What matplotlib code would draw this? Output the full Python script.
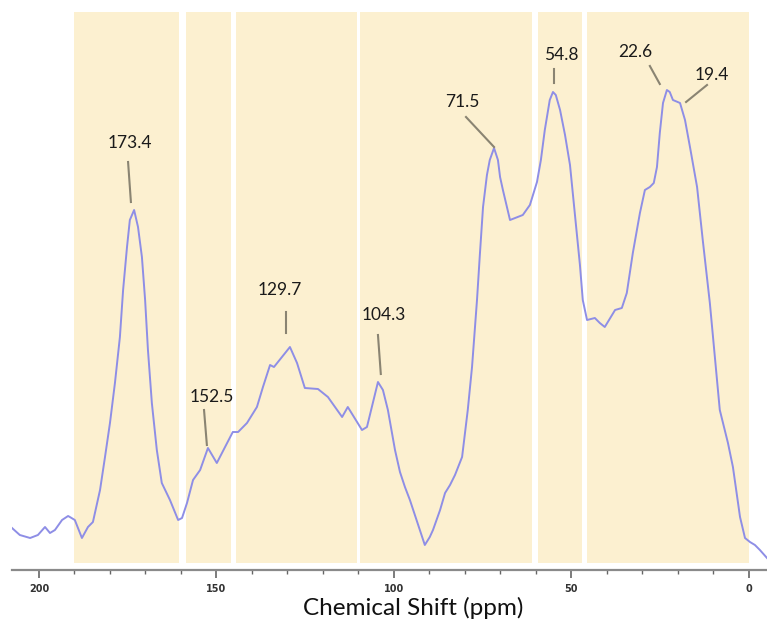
import matplotlib
matplotlib.use("Agg")
import matplotlib.pyplot as plt

# spectrum: chemical shift (ppm) and intensity (arb.)
ppm = [207.6, 205.4, 202.5, 200.3, 198.3, 196.9, 195.5, 193.5, 191.8, 191.3,
       189.9, 187.9, 186.2, 184.8, 182.8, 181.4, 180.0, 178.6, 177.2, 176.3,
       175.2, 174.4, 173.2, 172.1, 171.0, 170.1, 169.3, 168.2, 166.8, 165.4,
       163.1, 160.8, 159.7, 158.3, 156.6, 154.6, 152.4, 149.9, 145.4, 143.9,
       141.4, 138.6, 136.9, 134.9, 133.8, 129.3, 127.3, 125.1, 121.4, 118.6,
       114.6, 113.0, 109.0, 107.6, 104.5, 103.1, 101.7, 99.7, 98.3, 96.9,
       95.5, 94.1, 92.7, 91.3, 89.9, 89.0, 87.0, 85.6, 84.2, 82.8,
       80.8, 79.2, 78.0, 76.6, 75.8, 74.9, 73.8, 73.0, 71.8, 70.7,
       70.1, 69.3, 67.3, 63.7, 61.7, 59.7, 58.6, 57.5, 56.1, 55.2,
       54.4, 53.2, 51.8, 50.4, 49.0, 47.6, 46.8, 45.6, 43.4, 42.0,
       40.6, 37.7, 35.8, 34.4, 32.7, 30.7, 29.3, 27.9, 26.8, 25.9,
       25.1, 24.2, 23.1, 22.3, 21.4, 19.4, 18.0, 16.6, 14.6, 13.0,
       11.0, 9.6, 8.2, 5.9, 4.5, 2.5, 1.1, -0.3, -1.7, -3.1, -5.1]
intensity = [42, 35, 32, 35, 43, 37, 40, 50, 54, 53,
             50, 32, 43, 48, 80, 113, 147, 187, 233, 280,
             323, 350, 360, 343, 313, 270, 220, 167, 120, 87,
             70, 50, 52, 67, 90, 100, 122, 107, 138, 138,
             147, 163, 183, 205, 203, 223, 207, 182, 181, 173,
             153, 163, 140, 143, 188, 180, 160, 120, 98, 83,
             70, 55, 40, 25, 33, 40, 60, 77, 85, 95,
             113, 160, 203, 270, 315, 363, 395, 410, 422, 410,
             393, 380, 350, 355, 365, 388, 410, 440, 470, 478,
             475, 460, 435, 405, 355, 305, 270, 250, 252, 247,
             243, 260, 262, 277, 317, 357, 380, 383, 387, 403,
             437, 467, 480, 478, 470, 467, 450, 423, 383, 330,
             267, 213, 160, 127, 103, 53, 32, 28, 25, 20, 12]

# shaded integration regions (ppm)
region_start = [190, 158.5, 144.5, 109.5, 59.5, 45.5]
region_end = [160.5, 146, 110.5, 61, 47, 0]

# peak labels
peak_labels = ["173.4", "152.5", "129.7", "104.3", "71.5", "54.8", "22.6", "19.4"]
label_xy = [(174.4, 427), (151.3, 173), (132.1, 280), (102.8, 255),
            (80.6, 468), (53.0, 515), (32.1, 518), (10.4, 495)]
leader_from = [(174.9, 408), (153.5, 160), (130.4, 258), (104.5, 235),
               (79.7, 453), (54.9, 501), (27.9, 504), (11.8, 485)]
leader_to = [(174.1, 368), (152.7, 125), (130.4, 237), (103.7, 196),
             (71.8, 423), (54.9, 487), (25.1, 486), (17.7, 468)]

fig = plt.figure(figsize=(7.67, 6.31), dpi=100)
ax = fig.add_axes([12 / 767, 61 / 631, 755 / 767, 558 / 631])

for a, b in zip(region_start, region_end):
    ax.axvspan(a, b, ymin=0.012, ymax=1.0, color="#FCF0D0", lw=0, zorder=0)

ax.plot(ppm, intensity, color="#8E8EE6", lw=1.4, zorder=3)

for txt, (tx, ty), (x0, y0), (x1, y1) in zip(peak_labels, label_xy, leader_from, leader_to):
    ax.plot([x0, x1], [y0, y1], color="#8A8472", lw=1.5, zorder=4)
    ax.text(tx, ty, txt, ha="center", va="center", fontsize=12.5,
            family="Lato", color="#1a1a1a", zorder=5)

ax.set_xlim(207.6, -5.1)
ax.set_ylim(0, 558)

for s in ["top", "left", "right"]:
    ax.spines[s].set_visible(False)
ax.spines["bottom"].set_color("#8a8a8a")
ax.spines["bottom"].set_linewidth(1.6)
ax.set_yticks([])
ax.set_xticks([200, 150, 100, 50, 0])
ax.set_xticks(range(0, 201, 10), minor=True)
ax.tick_params(axis="x", which="major", length=6, width=1.2, color="#666666",
               labelsize=7, labelcolor="#333333", pad=4)
ax.tick_params(axis="x", which="minor", length=3, width=1.0, color="#666666")
for lab in ax.get_xticklabels():
    lab.set_fontweight("bold")

fig.text(413 / 767, 1 - 608 / 631, "Chemical Shift (ppm)", ha="center", va="center",
         fontsize=17.5, family="Lato", color="#111111")

fig.savefig("out.png", dpi=100)
